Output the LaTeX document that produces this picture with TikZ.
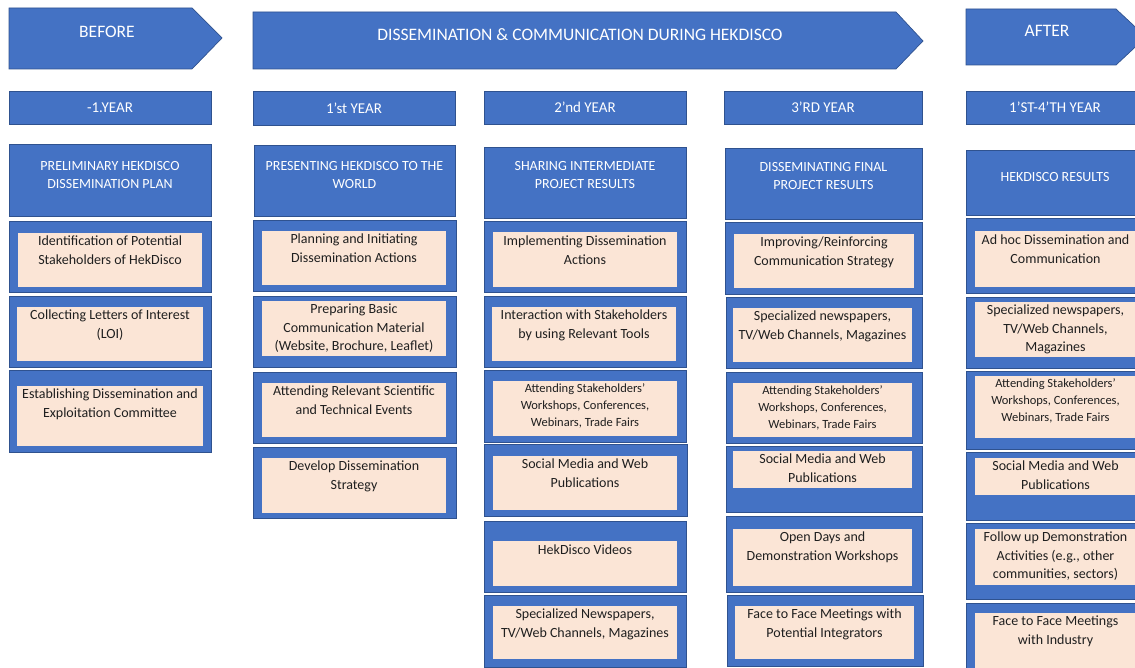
\documentclass[tikz,border=0pt]{standalone}
\usepackage{fontspec}
\setmainfont{Carlito}
\usepackage{tikz}
\usetikzlibrary{fit}

\definecolor{hekblue}{HTML}{4472C4}
\definecolor{hekedge}{HTML}{2F528F}
\definecolor{hekpeach}{HTML}{FBE5D6}

\begin{document}
\begin{tikzpicture}[x=1pt, y=-1pt,
    stage/.style={fill=hekblue, draw=hekedge, line width=0.7pt},
    banner/.style={text=white, inner sep=0pt, font=\fontsize{17.5}{21}\selectfont},
    bar/.style={rectangle, fill=hekblue, draw=hekedge, line width=0.7pt, inner sep=0pt},
    bartext/.style={text=white, inner sep=0pt, font=\fontsize{15}{18}\selectfont},
    headtext/.style={anchor=north, text=white, align=center, inner sep=0pt, font=\fontsize{14}{18}\selectfont},
    frame/.style={rectangle, fill=hekblue, draw=hekedge, line width=0.7pt, inner sep=0pt},
    inbox/.style={rectangle, fill=hekpeach, inner sep=0pt},
    txt/.style={anchor=north, align=center, text=black!88, inner sep=0pt, yshift=-3pt, font=\fontsize{14}{18.5}\selectfont},
    small/.style={font=\fontsize{12.5}{16.8}\selectfont}]
    \useasboundingbox (0,0) rectangle (1135,668);

    % stage arrows
    \filldraw[stage] (9,8) -- (192,8) -- (222,38) -- (192,69) -- (9,69) -- cycle;
    \node[banner] (before) at (107,31.5) {BEFORE};
    \filldraw[stage] (253,12) -- (896,12) -- (923,41) -- (896,69) -- (253,69) -- cycle;
    \node[banner] (during) at (580,34.5) {DISSEMINATION \& COMMUNICATION DURING HEKDISCO};
    \filldraw[stage] (966,9) -- (1116,9) -- (1146,37) -- (1116,65) -- (966,65) -- cycle;
    \node[banner] (after) at (1047,30.5) {AFTER};

    % year bars
    \node[bar, fit={(9,91) (211,124)}] (Y1) {};
    \node[bartext] at (Y1.center) (y1) {-1.YEAR};
    \node[bar, fit={(253,91) (455,125)}] (Y2) {};
    \node[bartext] at (Y2.center) (y2) {1’st YEAR};
    \node[bar, fit={(484,91) (686,124)}] (Y3) {};
    \node[bartext] at (Y3.center) (y3) {2’nd YEAR};
    \node[bar, fit={(724,91) (922,124)}] (Y4) {};
    \node[bartext] at (Y4.center) (y4) {3’RD YEAR};
    \node[bar, fit={(966,91) (1145,124)}] (Y5) {};
    \node[bartext] at (1055,107) (y5) {1’ST-4’TH YEAR};

    % headers
    \node[bar, fit={(9,144) (211,216)}] (H1) {};
    \node[headtext] at ([yshift=-18pt]H1.north) (h1) {PRELIMINARY HEKDISCO\\DISSEMINATION PLAN};
    \node[bar, fit={(254,145) (455,216)}] (H2) {};
    \node[headtext] at ([yshift=-17pt]H2.north) (h2) {PRESENTING HEKDISCO TO THE\\WORLD};
    \node[bar, fit={(484,147) (686,218)}] (H3) {};
    \node[headtext] at ([yshift=-15pt]H3.north) (h3) {SHARING INTERMEDIATE\\PROJECT RESULTS};
    \node[bar, fit={(725,148) (922,219)}] (H4) {};
    \node[headtext] at ([yshift=-15pt]H4.north) (h4) {DISSEMINATING FINAL\\PROJECT RESULTS};
    \node[bar, fit={(966,150) (1145,215)}] (H5) {};
    \node[headtext] at (1055,172) (h5) {HEKDISCO RESULTS};

    % column 1
    \node[frame, fit={(9,221) (211,292)}] (F11) {};
    \node[inbox, fit={(18,233) (202,287)}] (B11) {};
    \node[txt] at (B11.north) (T11) {Identification of Potential\\Stakeholders of HekDisco};
    \node[frame, fit={(9,296) (211,367)}] (F12) {};
    \node[inbox, fit={(17,307) (203,361)}] (B12) {};
    \node[txt] at (B12.north) (T12) {Collecting Letters of Interest\\(LOI)};
    \node[frame, fit={(9,370) (211,452)}] (F13) {};
    \node[inbox, fit={(17,386) (203,446)}] (B13) {};
    \node[txt] at (B13.north) (T13) {Establishing Dissemination and\\Exploitation Committee};

    % column 2
    \node[frame, fit={(253,220) (456,291)}] (F21) {};
    \node[inbox, fit={(262,231) (446,285)}] (B21) {};
    \node[txt] at (B21.north) (T21) {Planning and Initiating\\Dissemination Actions};
    \node[frame, fit={(253,296) (456,367)}] (F22) {};
    \node[inbox, fit={(262,301) (446,356)}] (B22) {};
    \node[txt] at (B22.north) (T22) {Preparing Basic\\Communication Material\\(Website, Brochure, Leaflet)};
    \node[frame, fit={(253,372) (456,443)}] (F23) {};
    \node[inbox, fit={(262,383) (446,437)}] (B23) {};
    \node[txt] at (B23.north) (T23) {Attending Relevant Scientific\\and Technical Events};
    \node[frame, fit={(253,447) (456,518)}] (F24) {};
    \node[inbox, fit={(262,458) (446,513)}] (B24) {};
    \node[txt] at (B24.north) (T24) {Develop Dissemination\\Strategy};

    % column 3
    \node[frame, fit={(484,221) (686,292)}] (F31) {};
    \node[inbox, fit={(493,232) (677,287)}] (B31) {};
    \node[txt] at ([yshift=-1pt]B31.north) (T31) {Implementing Dissemination\\Actions};
    \node[frame, fit={(484,296) (686,367)}] (F32) {};
    \node[inbox, fit={(492,307) (676,361)}] (B32) {};
    \node[txt] at (B32.north) (T32) {Interaction with Stakeholders\\by using Relevant Tools};
    \node[frame, fit={(484,370) (686,442)}] (F33) {};
    \node[inbox, fit={(493,381) (677,436)}] (B33) {};
    \node[txt, small] at (B33.north) (T33) {Attending Stakeholders’\\Workshops, Conferences,\\Webinars, Trade Fairs};
    \node[frame, fit={(484,444) (687,516)}] (F34) {};
    \node[inbox, fit={(493,456) (677,510)}] (B34) {};
    \node[txt] at (B34.north) (T34) {Social Media and Web\\Publications};
    \node[frame, fit={(484,521) (686,592)}] (F35) {};
    \node[inbox, fit={(493,541) (677,586)}] (B35) {};
    \node[txt] at ([yshift=-1pt]B35.north) (T35) {HekDisco Videos};
    \node[frame, fit={(484,595) (686,667)}] (F36) {};
    \node[inbox, fit={(493,606) (677,659)}] (B36) {};
    \node[txt] at (B36.north) (T36) {Specialized Newspapers,\\TV/Web Channels, Magazines};

    % column 4
    \node[frame, fit={(725,222) (922,294)}] (F41) {};
    \node[inbox, fit={(734,234) (914,288)}] (B41) {};
    \node[txt] at (B41.north) (T41) {Improving/Reinforcing\\Communication Strategy};
    \node[frame, fit={(726,297) (922,368)}] (F42) {};
    \node[inbox, fit={(733,308) (912,362)}] (B42) {};
    \node[txt] at (B42.north) (T42) {Specialized newspapers,\\TV/Web Channels, Magazines};
    \node[frame, fit={(726,372) (922,443)}] (F43) {};
    \node[inbox, fit={(733,383) (912,437)}] (B43) {};
    \node[txt, small] at (B43.north) (T43) {Attending Stakeholders’\\Workshops, Conferences,\\Webinars, Trade Fairs};
    \node[frame, fit={(726,446) (922,512)}] (F44) {};
    \node[inbox, fit={(733,451) (912,488)}] (B44) {};
    \node[txt] at (B44.north) (T44) {Social Media and Web\\Publications};
    \node[frame, fit={(726,516) (922,592)}] (F45) {};
    \node[inbox, fit={(733,529) (912,586)}] (B45) {};
    \node[txt] at (B45.north) (T45) {Open Days and\\Demonstration Workshops};
    \node[frame, fit={(727,595) (923,666)}] (F46) {};
    \node[inbox, fit={(735,606) (914,659)}] (B46) {};
    \node[txt] at (B46.north) (T46) {Face to Face Meetings with\\Potential Integrators};

    % column 5
    \node[frame, fit={(966,218) (1145,293)}] (F51) {};
    \node[inbox, fit={(975,231) (1136,287)}] (B51) {};
    \node[txt] at ([yshift=-1pt]B51.north) (T51) {Ad hoc Dissemination and\\Communication};
    \node[frame, fit={(966,297) (1145,368)}] (F52) {};
    \node[inbox, fit={(975,302) (1136,357)}] (B52) {};
    \node[txt] at (B52.north) (T52) {Specialized newspapers,\\TV/Web Channels,\\Magazines};
    \node[frame, fit={(966,371) (1145,449)}] (F53) {};
    \node[inbox, fit={(975,376) (1136,438)}] (B53) {};
    \node[txt, small] at (B53.north) (T53) {Attending Stakeholders’\\Workshops, Conferences,\\Webinars, Trade Fairs};
    \node[frame, fit={(966,452) (1145,520)}] (F54) {};
    \node[inbox, fit={(975,458) (1136,495)}] (B54) {};
    \node[txt] at (B54.north) (T54) {Social Media and Web\\Publications};
    \node[frame, fit={(966,523) (1145,599)}] (F55) {};
    \node[inbox, fit={(975,529) (1136,585)}] (B55) {};
    \node[txt] at (B55.north) (T55) {Follow up Demonstration\\Activities (e.g., other\\communities, sectors)};
    \node[frame, fit={(966,603) (1145,680)}] (F56) {};
    \node[inbox, fit={(975,613) (1136,680)}] (B56) {};
    \node[txt] at (B56.north) (T56) {Face to Face Meetings\\with Industry};
\end{tikzpicture}
\end{document}
